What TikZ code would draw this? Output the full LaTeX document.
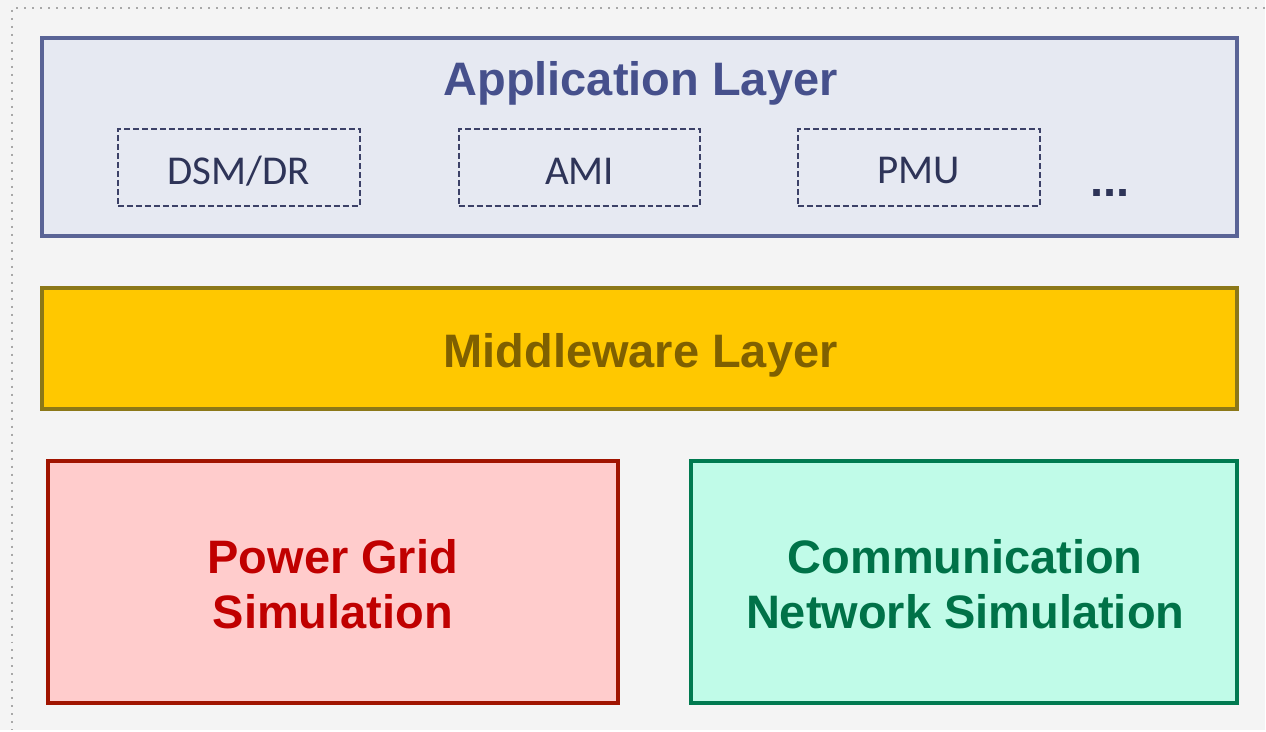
\documentclass[tikz,border=0pt]{standalone}
\usepackage{fontspec}
\setmainfont{Liberation Sans}
\newfontfamily\calfont{Carlito}
\usepackage{tikz}

\definecolor{bgcol}{HTML}{F4F4F4}
\definecolor{dotcol}{HTML}{A8A8A8}
\definecolor{appfill}{HTML}{E6E9F2}
\definecolor{appline}{HTML}{5A6496}
\definecolor{apptext}{HTML}{46508C}
\definecolor{subline}{HTML}{3C4168}
\definecolor{subtext}{HTML}{2E3458}
\definecolor{midfill}{HTML}{FFC800}
\definecolor{midline}{HTML}{8C7818}
\definecolor{midtext}{HTML}{7F6000}
\definecolor{powfill}{HTML}{FFCCCC}
\definecolor{powline}{HTML}{A01400}
\definecolor{powtext}{HTML}{C00000}
\definecolor{comfill}{HTML}{C0FBE8}
\definecolor{comline}{HTML}{007A50}
\definecolor{comtext}{HTML}{007248}

\begin{document}
\begin{tikzpicture}
  [x=0.5pt,y=-0.5pt,
   layer/.style={draw, line width=2pt, inner sep=0pt, align=center,
     font=\bfseries\fontsize{23.5}{27.5}\selectfont},
   plain/.style={inner sep=0pt, align=center, font=\bfseries\fontsize{23.5}{27.5}\selectfont},
   subbox/.style={draw=subline, line width=1pt, dash pattern=on 3pt off 1.5pt,
     minimum width=121pt, minimum height=38.5pt, inner sep=0pt},
   subname/.style={inner sep=0pt, text=subtext, font=\calfont\fontsize{20.5}{24}\selectfont}]
  % background
  \fill[bgcol] (0,0) rectangle (1266,731);
  \draw[dotcol, line width=1pt, dash pattern=on 1pt off 3pt] (1266,8) -- (12,8) -- (12,731);

  % application layer
  \node[layer, draw=appline, fill=appfill, minimum width=598pt, minimum height=99pt]
    (app) at (640,137) {};
  \node[plain, text=apptext] (apptitle) at (641,83) {Application Layer};
  \foreach \name/\x/\label in {dsm/239/DSM\slash DR, ami/580/AMI, pmu/919.5/PMU} {
    \node[subbox] (\name) at (\x,167.5) {};
    \node[subname] (\name-txt) at (\x,171) {\label};
  }
  \node[plain, text=subtext] (more) at (1111,193) {...};

  % middleware layer
  \node[layer, draw=midline, fill=midfill, minimum width=598pt, minimum height=60.5pt]
    (mid) at (640,348.5) {};
  \node[plain, text=midtext] (midtitle) at (641,356) {Middleware Layer};

  % simulators
  \node[layer, draw=powline, fill=powfill, text=powtext,
    minimum width=285pt, minimum height=121.5pt] (pow) at (333,582.5) {};
  \node[plain, text=powtext] (powtitle) at (333,585) {Power Grid\\Simulation};
  \node[layer, draw=comline, fill=comfill, text=comtext,
    minimum width=273pt, minimum height=121.5pt] (com) at (965,582.5) {};
  \node[plain, text=comtext] (comtitle) at (966,585) {Communication\\Network Simulation};
\end{tikzpicture}
\end{document}
